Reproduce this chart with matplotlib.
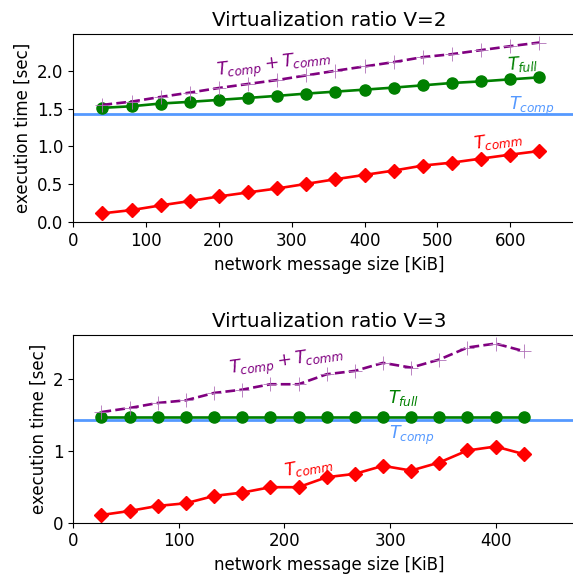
import numpy as np
import matplotlib
matplotlib.use("Agg")
import matplotlib.pyplot as plt

plt.rcParams["font.size"] = 12

# message sizes [KiB]
steps = np.arange(1, 17)
size_v2 = [40 * k for k in steps]
size_v3 = [80 * k / 3 for k in steps]

# V=2 measurements [sec]
tcomp_v2 = 1.43
tfull_v2 = [1.509, 1.530, 1.566, 1.588, 1.614, 1.640, 1.667, 1.697,
            1.723, 1.749, 1.776, 1.806, 1.837, 1.858, 1.885, 1.911]
tcomm_v2 = [0.118, 0.161, 0.223, 0.280, 0.341, 0.394, 0.446, 0.507,
            0.568, 0.625, 0.682, 0.748, 0.787, 0.840, 0.892, 0.940]

# V=3 measurements [sec]
tcomp_v3 = 1.43
tfull_v3 = [1.47] * 16
tcomm_v3 = [0.107, 0.163, 0.233, 0.270, 0.372, 0.418, 0.493, 0.493,
            0.632, 0.678, 0.790, 0.724, 0.836, 1.003, 1.058, 0.953]

BLUE = "#5599ff"


def draw_panel(ax, x, tfull, tcomm, tcomp, title, xmax, labels):
    tsum = [tcomp + c for c in tcomm]
    ax.axhline(tcomp, color=BLUE, lw=2)
    ax.plot(x, tfull, color="green", marker="o", ms=8, lw=1.9)
    ax.plot(x, tcomm, color="red", marker="D", ms=7, lw=1.9)
    ax.plot(x, tsum, color="purple", ls="--", lw=1.9)
    # thin '+' marks on the summed curve
    ax.plot(x, tsum, ls="none", marker="+", ms=10, mew=0.6, color="#b070b8")
    ax.set_xlim(0, xmax)
    ax.set_ylim(bottom=0)
    ax.set_title(title, fontsize=14.4)
    ax.set_xlabel("network message size [KiB]")
    ax.set_ylabel("execution time [sec]")
    # curve labels: (text, x, y, color, rotation)
    for txt, tx, ty, col, rot in labels:
        ax.text(tx, ty, txt, color=col, rotation=rot, ha="center", va="center",
                rotation_mode="anchor", fontsize=12.5)


W = 512 / 573
fig = plt.figure(figsize=(5.73, 5.77), dpi=100)
ax1 = fig.add_axes([73.3 / 573, (577 - 222.3) / 577, W, (222.3 - 34) / 577])
ax2 = fig.add_axes([73.3 / 573, (577 - 522.7) / 577, W, (522.7 - 335) / 577])

draw_panel(ax1, size_v2, tfull_v2, tcomm_v2, tcomp_v2, "Virtualization ratio V=2", 703, [
    (r"$T_{comp} + T_{comm}$", 275, 2.064, "purple", 7),
    (r"$T_{full}$", 618, 2.087, "green", 4),
    (r"$T_{comp}$", 630, 1.53, BLUE, 0),
    (r"$T_{comm}$", 584, 1.08, "red", 8),
])
ax1.set_xticks(range(0, 700, 100))

draw_panel(ax2, size_v3, tfull_v3, tcomm_v3, tcomp_v3, "Virtualization ratio V=3", 485, [
    (r"$T_{comp} + T_{comm}$", 202, 2.22, "purple", 8),
    (r"$T_{full}$", 313, 1.733, "green", 0),
    (r"$T_{comp}$", 321, 1.208, BLUE, 0),
    (r"$T_{comm}$", 223, 0.78, "red", 10),
])
ax2.set_xticks(range(0, 500, 100))

fig.savefig("out.png", dpi=100)
